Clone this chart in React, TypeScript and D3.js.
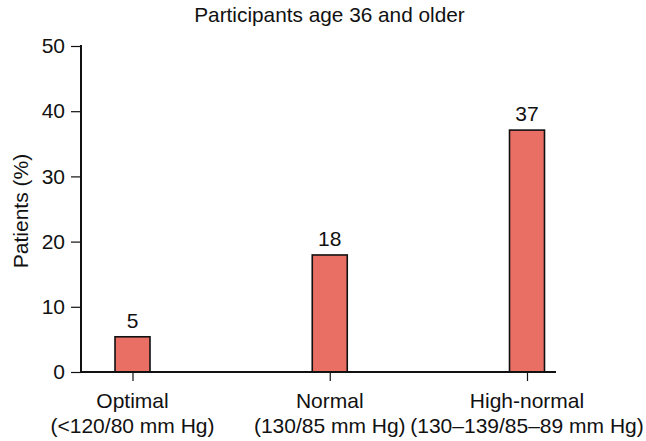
import { useEffect, useRef } from 'react';
import * as d3 from 'd3';

// values
const categories = ['Optimal', 'Normal', 'High-normal'];
const subLabels = ['(<120/80 mm Hg)', '(130/85 mm Hg)', '(130\u2013139/85\u201389 mm Hg)'];
const barValues = [5.4, 17.95, 37.1];
const valueLabels = ['5', '18', '37'];
const yTicks = [0, 10, 20, 30, 40, 50];

const WIDTH = 646;
const HEIGHT = 441;
const FONT = 'Liberation Sans, Arial, Helvetica, sans-serif';

const App = () => {
  const svgRef = useRef<SVGSVGElement>(null);

  useEffect(() => {
    if (!svgRef.current) return;
    const svg = d3.select(svgRef.current);
    svg.selectAll('*').remove();

    const x0 = 81;
    const x1 = 556;
    const yTop = 46;
    const yBottom = 372;
    const barWidth = 35;

    const xScale = d3.scalePoint<string>()
      .domain(categories)
      .range([132.5, 527]);

    const yScale = d3.scaleLinear()
      .domain([0, 50])
      .range([yBottom, yTop]);

    // Title
    svg.append('text')
      .attr('x', 329.5)
      .attr('y', 22)
      .attr('text-anchor', 'middle')
      .style('font-family', FONT)
      .style('font-size', '20.8px')
      .style('fill', '#111')
      .text('Participants age 36 and older');

    // Bars
    svg.selectAll('.bar')
      .data(barValues)
      .join('rect')
      .attr('class', 'bar')
      .attr('x', (_, i) => (xScale(categories[i]) || 0) - barWidth / 2)
      .attr('y', d => yScale(d))
      .attr('width', barWidth)
      .attr('height', d => yBottom - yScale(d))
      .attr('fill', '#E96E64')
      .attr('stroke', '#111')
      .attr('stroke-width', 1.6);

    // Value labels
    svg.selectAll('.val')
      .data(barValues)
      .join('text')
      .attr('class', 'val')
      .attr('x', (_, i) => xScale(categories[i]) || 0)
      .attr('y', d => yScale(d) - 9)
      .attr('text-anchor', 'middle')
      .style('font-family', FONT)
      .style('font-size', '21px')
      .style('fill', '#111')
      .text((_, i) => valueLabels[i]);

    // Y axis
    const yAxis = d3.axisLeft(yScale)
      .tickValues(yTicks)
      .tickSize(10)
      .tickPadding(6);
    const gy = svg.append('g')
      .attr('transform', `translate(${x0},0)`)
      .call(yAxis);
    gy.select('.domain').remove();
    gy.selectAll('.tick line').attr('stroke', '#111').attr('stroke-width', 1.2);
    gy.selectAll('.tick text')
      .style('font-family', FONT)
      .style('font-size', '21px')
      .style('fill', '#111');
    svg.append('line')
      .attr('x1', x0).attr('x2', x0)
      .attr('y1', yTop - 1).attr('y2', yBottom + 1)
      .attr('stroke', '#111').attr('stroke-width', 2);

    // X axis
    const xAxis = d3.axisBottom(xScale).tickSize(9).tickFormat(() => '');
    const gx = svg.append('g')
      .attr('transform', `translate(0,${yBottom})`)
      .call(xAxis);
    gx.select('.domain').remove();
    gx.selectAll('.tick line').attr('stroke', '#111').attr('stroke-width', 1.2);
    svg.append('line')
      .attr('x1', x0 - 1).attr('x2', x1)
      .attr('y1', yBottom).attr('y2', yBottom)
      .attr('stroke', '#111').attr('stroke-width', 2);

    // Category labels (two lines)
    const cat = svg.selectAll('.cat')
      .data(categories)
      .join('text')
      .attr('class', 'cat')
      .attr('text-anchor', 'middle')
      .style('font-family', FONT)
      .style('font-size', '21px')
      .style('fill', '#111');
    cat.append('tspan')
      .attr('x', d => xScale(d) || 0)
      .attr('y', 408)
      .text(d => d);
    cat.append('tspan')
      .attr('x', d => xScale(d) || 0)
      .attr('y', 433)
      .text((_, i) => subLabels[i]);

    // Y label
    svg.append('text')
      .attr('transform', 'translate(28,211) rotate(-90)')
      .attr('text-anchor', 'middle')
      .style('font-family', FONT)
      .style('font-size', '21px')
      .style('fill', '#111')
      .text('Patients (%)');
  }, []);

  return (
    <svg
      ref={svgRef}
      width={WIDTH}
      height={HEIGHT}
      style={{ position: 'absolute', left: 0, top: 0, background: '#fff' }}
    />
  );
};

export default App;
